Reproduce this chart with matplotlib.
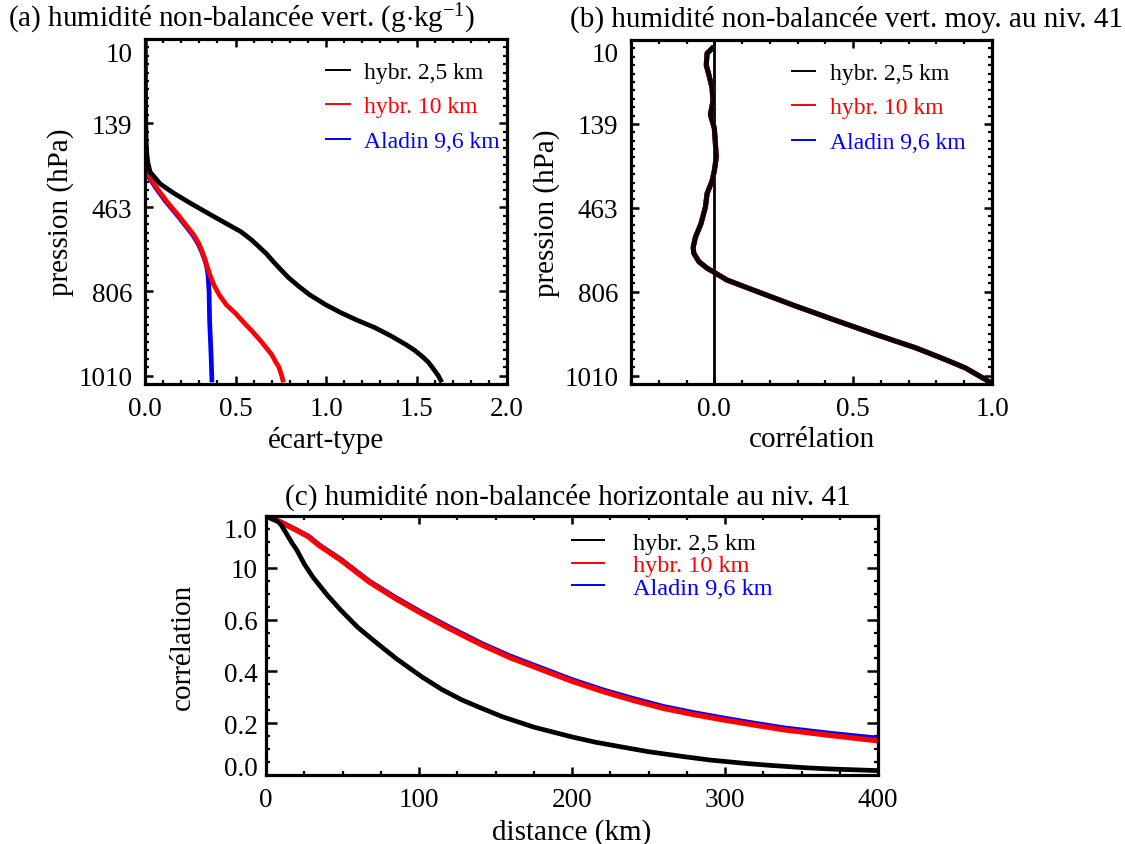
import matplotlib
matplotlib.use("Agg")
import matplotlib.pyplot as plt
from matplotlib.ticker import MultipleLocator, FixedLocator
from matplotlib.lines import Line2D
import matplotlib.transforms as mtransforms

plt.rcParams['font.family'] = ['Liberation Serif', 'DejaVu Serif']
plt.rcParams['mathtext.fontset'] = 'custom'
plt.rcParams['mathtext.rm'] = 'Liberation Serif'
plt.rcParams['mathtext.it'] = 'Liberation Serif:italic'

# ---------------- data ----------------
# vertical axis: model level index (0 = top, 41 = bottom)
p_tick_levels = [0, 10, 20, 30, 40]
p_tick_labels = ['10', '139', '463', '806', '1010']

# (a) standard deviation profiles
a_black_lev = [0, 4, 8, 11.8, 13.4, 14.6, 15.8, 17.2, 18.3, 19.5, 21.1, 22.9, 23.9, 24.9, 25.5, 26.6, 27.4, 28.3, 29.4, 30.4, 31.6, 32.5, 33.4, 34.3, 35.3, 36.3, 37.0, 37.7, 38.4, 39.1, 40.0, 40.8]
a_black_val = [0.0, 0.001, 0.003, 0.006, 0.009, 0.015, 0.028, 0.083, 0.157, 0.25, 0.38, 0.53, 0.59, 0.64, 0.67, 0.715, 0.75, 0.79, 0.85, 0.91, 1.0, 1.08, 1.17, 1.27, 1.36, 1.44, 1.49, 1.53, 1.565, 1.59, 1.62, 1.64]
a_red_lev = [0, 8, 12, 14.0, 15.0, 16.2, 17.7, 19.3, 21.1, 23.3, 24.2, 25.2, 26.1, 27.0, 28.0, 29.2, 30.4, 31.6, 32.6, 33.7, 34.8, 35.9, 36.7, 37.5, 38.3, 39.0, 40.0, 40.8]
a_red_val = [0.0, 0.0, 0.001, 0.003, 0.006, 0.019, 0.065, 0.12, 0.19, 0.27, 0.295, 0.315, 0.33, 0.343, 0.358, 0.38, 0.41, 0.45, 0.50, 0.546, 0.595, 0.64, 0.67, 0.70, 0.72, 0.74, 0.755, 0.765]
a_blue_lev = [0, 8, 12, 14.0, 15.0, 16.2, 17.7, 19.3, 21.1, 23.3, 24.2, 25.2, 26.4, 27.2, 28.0, 30.0, 33.5, 37.5, 40.8]
a_blue_val = [0.0, 0.0, 0.001, 0.003, 0.005, 0.015, 0.06, 0.114, 0.184, 0.264, 0.29, 0.312, 0.333, 0.342, 0.348, 0.354, 0.357, 0.365, 0.37]

# (b) vertical correlation with level 41
b_lev = [1.0, 1.6, 3.0, 4.1, 5.7, 7.3, 8.9, 10.5, 12.4, 14.0, 15.6, 16.8, 18.3, 19.9, 21.9, 23.5, 24.7, 25.4, 26.4, 27.2, 27.7, 28.6, 29.8, 31.6, 33.3, 35.1, 36.7, 38.1, 39.1, 40.0, 40.8]
b_black_val = [-0.008, -0.026, -0.029, -0.02, -0.008, -0.005, -0.014, 0.0, 0.004, 0.007, 0.0, -0.008, -0.026, -0.032, -0.048, -0.068, -0.076, -0.074, -0.056, -0.026, 0.0, 0.045, 0.14, 0.284, 0.427, 0.582, 0.726, 0.833, 0.905, 0.952, 0.994]
b_red_val = list(b_black_val)
b_blue_val = list(b_black_val)

# (c) horizontal correlation
c_black_dist = [0, 7.9, 10, 17.2, 20, 25, 30.4, 40, 48.8, 60, 70, 85, 101.6, 115, 128, 140, 154.5, 175, 199.3, 215, 233.7, 250, 273, 290, 312.9, 330, 352.5, 370, 400]
c_black_val = [1.0, 0.978, 0.965, 0.894, 0.87, 0.815, 0.766, 0.695, 0.637, 0.57, 0.521, 0.45, 0.380, 0.33, 0.290, 0.26, 0.225, 0.185, 0.148, 0.127, 0.107, 0.09, 0.071, 0.058, 0.045, 0.037, 0.028, 0.023, 0.017]
c_red_dist = [0, 10, 20, 27.7, 35, 48.8, 67.3, 85, 101.6, 120, 141.2, 160, 180.9, 200, 220.5, 240, 260, 280, 299.7, 320, 339.3, 370, 400]
c_red_val = [1.0, 0.975, 0.945, 0.920, 0.885, 0.830, 0.746, 0.68, 0.624, 0.565, 0.502, 0.452, 0.405, 0.362, 0.322, 0.288, 0.257, 0.233, 0.212, 0.192, 0.174, 0.152, 0.132]
c_blue_dist = [0, 10, 20, 27.7, 35, 48.8, 67.3, 85, 101.6, 120, 141.2, 160, 180.9, 200, 220.5, 240, 260, 280, 299.7, 320, 339.3, 370, 400]
c_blue_val = [1.0, 0.976, 0.946, 0.922, 0.887, 0.833, 0.749, 0.684, 0.628, 0.57, 0.507, 0.458, 0.411, 0.368, 0.328, 0.295, 0.264, 0.24, 0.219, 0.199, 0.181, 0.16, 0.142]
c_ytick_vals = [0.0, 0.2, 0.4, 0.6, 0.8, 1.0]
c_ytick_labels = ['0.0', '0.2', '0.4', '0.6', '10', '1.0']

series_names = ['hybr. 2,5 km', 'hybr. 10 km', 'Aladin 9,6 km']
series_colors = ['black', 'red', 'blue']

W, H = 1125, 845
fig = plt.figure(figsize=(W / 100, H / 100), dpi=100)


def rect(l, t, r, b):
    return [l / W, 1 - b / H, (r - l) / W, (b - t) / H]


FS = 19.5     # tick labels
FL = 21       # axis labels
FT = 21       # titles


def style_axes(ax):
    for s in ax.spines.values():
        s.set_linewidth(2.3)
    ax.tick_params(which='both', direction='in', top=True, right=True, labelsize=FS)
    ax.tick_params(which='major', length=6, width=1.8, pad=9)
    ax.tick_params(which='minor', length=3, width=1.6)


def shift_label(lbl, dy_px, fig):
    off = mtransforms.ScaledTranslation(0, dy_px / 100, fig.dpi_scale_trans)
    lbl.set_transform(lbl.get_transform() + off)


def add_legend(ax, x0, y0, fs, hl, tp, ls):
    handles = [Line2D([], [], color=c, lw=1.4) for c in series_colors]
    leg = ax.legend(handles, series_names, loc='upper left', bbox_to_anchor=(x0, y0),
                    frameon=False, fontsize=fs, handlelength=hl, handletextpad=tp,
                    labelspacing=ls, borderpad=0, borderaxespad=0, labelcolor=series_colors)
    return leg


# ---------- (a) ----------
axa = fig.add_axes(rect(145, 40, 507, 385))
axa.plot(a_blue_val, a_blue_lev, color='blue', lw=3.4, solid_capstyle='butt')
axa.plot(a_red_val, a_red_lev, color='red', lw=3.4, solid_capstyle='butt')
axa.plot(a_black_val, a_black_lev, color='black', lw=3.4, solid_capstyle='butt')
axa.set_xlim(0, 2.0)
axa.set_ylim(41, 0)
axa.xaxis.set_major_locator(FixedLocator([0.0, 0.5, 1.0, 1.5, 2.0]))
axa.set_xticklabels(['0.0', '0.5', '1.0', '1.5', '2.0'])
axa.xaxis.set_minor_locator(MultipleLocator(0.1))
axa.set_yticks(p_tick_levels)
axa.set_yticklabels(p_tick_labels)
axa.yaxis.set_minor_locator(MultipleLocator(1))
style_axes(axa)
axa.set_xlabel('écart-type', fontsize=FL, labelpad=3)
axa.set_ylabel('pression (hPa)', fontsize=FL, labelpad=3)
add_legend(axa, 0.50, 0.935, 17, 1.0, 0.62, 0.55)
fig.text(8 / W, 1 - 19 / H, '(a) humidité non-balancée vert. (g$\\cdot$kg$^{-1}$)', fontsize=FT, va='center', ha='left')

# ---------- (b) ----------
axb = fig.add_axes(rect(631, 41, 992, 385))
axb.axvline(0.0, color='black', lw=2.0)
axb.plot(b_blue_val, b_lev, color='blue', lw=3.7)
axb.plot(b_red_val, b_lev, color='red', lw=3.7)
axb.plot(b_black_val, b_lev, color='black', lw=3.4)
axb.set_xlim(-0.3, 1.0)
axb.set_ylim(41, 0)
axb.xaxis.set_major_locator(FixedLocator([0.0, 0.5, 1.0]))
axb.set_xticklabels(['0.0', '0.5', '1.0'])
axb.xaxis.set_minor_locator(MultipleLocator(0.1))
axb.set_yticks(p_tick_levels)
axb.set_yticklabels(p_tick_labels)
axb.yaxis.set_minor_locator(MultipleLocator(1))
style_axes(axb)
axb.set_xlabel('corrélation', fontsize=FL, labelpad=3)
axb.set_ylabel('pression (hPa)', fontsize=FL, labelpad=3)
add_legend(axb, 0.445, 0.935, 17, 1.0, 0.62, 0.55)
fig.text(570 / W, 1 - 19 / H, '(b) humidité non-balancée vert. moy. au niv. 41', fontsize=FT, va='center', ha='left')

# ---------- (c) ----------
axc = fig.add_axes(rect(266, 517, 878, 776))
axc.plot(c_blue_dist, c_blue_val, color='blue', lw=3.6)
axc.plot(c_red_dist, c_red_val, color='red', lw=3.8)
axc.plot(c_black_dist, c_black_val, color='black', lw=3.4)
axc.set_xlim(0, 400)
axc.set_ylim(0, 1.0)
axc.set_xticks([0, 100, 200, 300, 400])
axc.set_xticklabels(['0', '100', '200', '300', '400'])
axc.xaxis.set_minor_locator(MultipleLocator(25))
axc.set_yticks(c_ytick_vals)
axc.set_yticklabels(c_ytick_labels)
axc.yaxis.set_minor_locator(MultipleLocator(0.05))
style_axes(axc)
axc.tick_params(axis='y', which='major', length=8, pad=6)
axc.set_xlabel('distance (km)', fontsize=FL, labelpad=4)
axc.set_ylabel('corrélation', fontsize=FL, labelpad=20)
add_legend(axc, 0.50, 0.94, 17.5, 1.3, 1.2, 0.02)
fig.text(285 / W, 1 - 497 / H, '(c) humidité non-balancée horizontale au niv. 41', fontsize=FT, va='center', ha='left')

# IDL-like shifted edge labels
shift_label(axa.get_yticklabels()[0], -12, fig)
shift_label(axb.get_yticklabels()[0], -12, fig)
shift_label(axc.get_yticklabels()[-1], -11, fig)
shift_label(axc.get_yticklabels()[0], 9, fig)

fig.savefig('out.png', dpi=100)
